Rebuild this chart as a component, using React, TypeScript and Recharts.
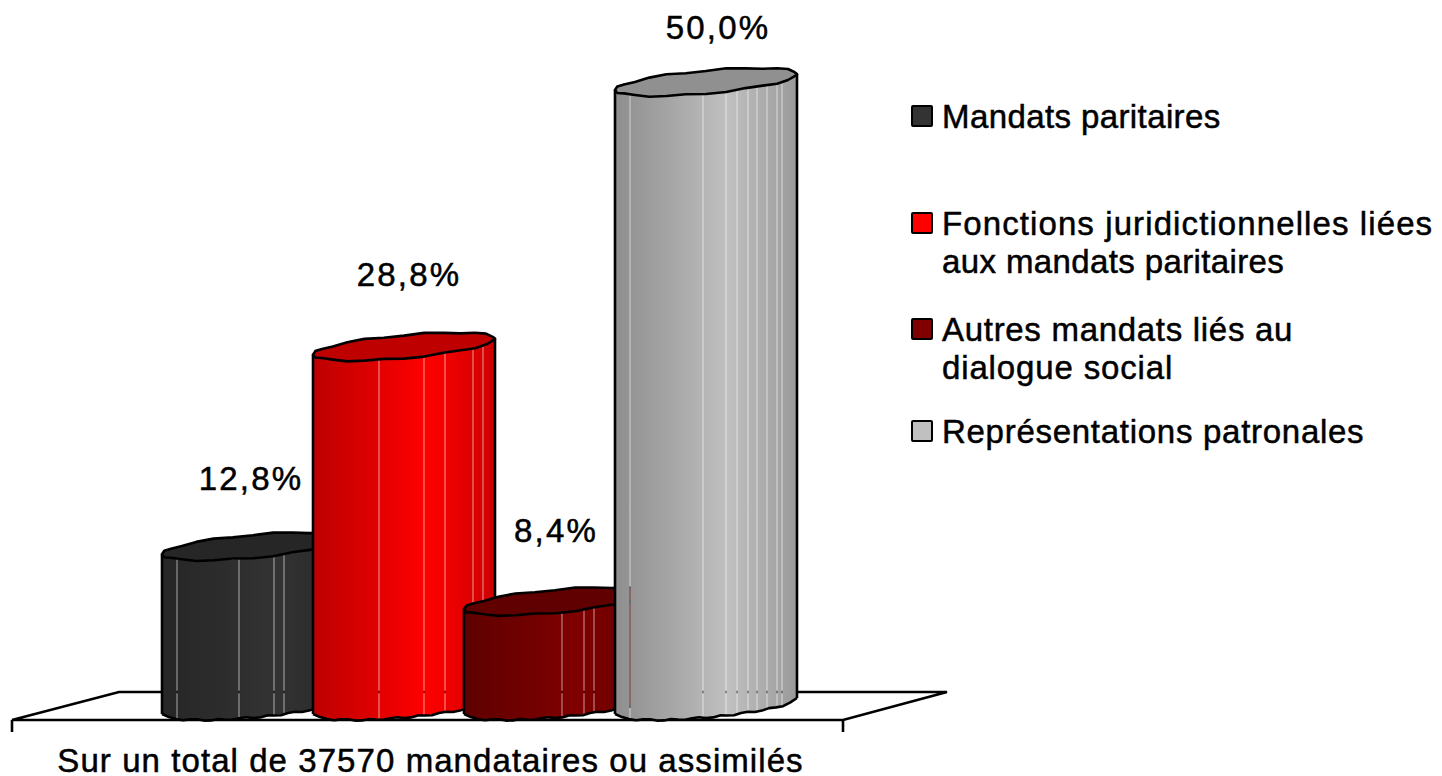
import React from 'react';
import { BarChart, Bar, XAxis, YAxis, Legend, LabelList } from 'recharts';

const categories = ['Sur un total de 37570 mandataires ou assimilés'];
const seriesNames = [
  'Mandats paritaires',
  'Fonctions juridictionnelles liées\naux mandats paritaires',
  'Autres mandats liés au\ndialogue social',
  'Représentations patronales',
];
const seriesValues = [12.8, 28.8, 8.4, 50.0];
const seriesColors = ['#333333', '#ff0000', '#800000', '#c0c0c0'];

// where the facets of each cylinder part, px from its left edge
const seamOffsets = [
  [15, 77, 112, 122],
  [66, 111, 132, 160, 170],
  [98, 120, 130],
  [15, 88, 111, 122, 133, 142, 152, 162, 167],
];
const labelNudges = [
  { dx: -2, dy: 68 },
  { dx: 5, dy: 72 },
  { dx: 1, dy: 71 },
  { dx: 12, dy: 55 },
];
const legendRows = [
  { top: 98, swatch: 7, spacing: [0.4] },
  { top: 205, swatch: 7, spacing: [1.1, 0.38] },
  { top: 311, swatch: 7, spacing: [0.7, 0.86] },
  { top: 413, swatch: 7, spacing: [0.72] },
];

const FONT = '"Liberation Sans", Arial, sans-serif';
const FONT_SIZE = 33;
const DEPTH = 104;
const TILT = 8;
const MINOR = 11.5;
const LINE = 2.6;

const chartData = categories.map((category) => {
  const row: Record<string, string | number> = { category };
  seriesNames.forEach((name, i) => {
    row[name] = seriesValues[i];
  });
  return row;
});

function shade(hex: string, k: number) {
  const n = parseInt(hex.slice(1), 16);
  const ch = (v: number) => Math.round(v * k);
  return `rgb(${ch((n >> 16) & 255)},${ch((n >> 8) & 255)},${ch(n & 255)})`;
}

// lumpy outline, same as the faceted cylinders of the original
const wobble = (i: number) => [0.5, -0.7, 0.2, 0.8, -0.4, -0.8, 0.6][i % 7];

function ring(cx: number, cy: number, a: number) {
  const pts: [number, number][] = [];
  const n = 28;
  for (let i = 0; i < n; i++) {
    const t = (i / n) * Math.PI * 2;
    const w = i % 14 === 0 ? 0 : wobble(i);
    pts.push([cx - a * Math.cos(t), cy + TILT * Math.cos(t) - MINOR * Math.sin(t) + w]);
  }
  return pts;
}

function frontY(x: number, cx: number, cy: number, a: number) {
  const c = Math.max(-1, Math.min(1, (x - cx) / a));
  return cy - TILT * c + MINOR * Math.sqrt(1 - c * c);
}

function toPath(pts: [number, number][], close = true) {
  const d = pts.map((p, i) => `${i ? 'L' : 'M'}${p[0].toFixed(1)} ${p[1].toFixed(1)}`).join(' ');
  return close ? d + ' Z' : d;
}

function stripPath(x0: number, x1: number, cx: number, topY: number, baseY: number, a: number) {
  const steps = Math.max(2, Math.ceil((x1 - x0) / 9));
  const top: [number, number][] = [];
  const bottom: [number, number][] = [];
  for (let i = 0; i <= steps; i++) {
    const x = x0 + ((x1 - x0) * i) / steps;
    top.push([x, frontY(x, cx, topY, a)]);
    bottom.unshift([x, frontY(x, cx, baseY, a)]);
  }
  return toPath([...top, ...bottom]);
}

const makeCylinder = (seriesIndex: number) => (props: any) => {
  const { x, y, width, height } = props;
  const color = seriesColors[seriesIndex];
  const a = width / 2;
  const cx = x + a;
  const baseY = y + height;
  const id = `cyl-${seriesIndex}`;
  const edges = [0, ...seamOffsets[seriesIndex], width];
  const gap = 0.6;

  const outlineBottom: [number, number][] = [];
  const steps = 26;
  for (let i = 0; i <= steps; i++) {
    const px = x + (width * i) / steps;
    const w = i === 0 || i === steps ? 0 : wobble(i);
    outlineBottom.push([px, frontY(px, cx, baseY, a) + w]);
  }

  return (
    <g>
      <defs>
        <linearGradient id={id} gradientUnits="userSpaceOnUse" x1={x} x2={x + width} y1={0} y2={0}>
          <stop offset="0" stopColor={shade(color, 0.74)} />
          <stop offset="0.3" stopColor={shade(color, 0.86)} />
          <stop offset="0.62" stopColor={shade(color, 1)} />
          <stop offset="1" stopColor={shade(color, 0.8)} />
        </linearGradient>
      </defs>
      {edges.slice(0, -1).map((e, i) => (
        <path
          key={i}
          d={stripPath(x + e + (i ? gap / 2 : 0), x + edges[i + 1] - (i < edges.length - 2 ? gap / 2 : 0), cx, y, baseY, a)}
          fill={`url(#${id})`}
        />
      ))}
      <path d={toPath(outlineBottom, false)} fill="none" stroke="#000" strokeWidth={LINE} strokeLinejoin="round" />
      <line x1={x} y1={frontY(x, cx, y, a)} x2={x} y2={frontY(x, cx, baseY, a)} stroke="#000" strokeWidth={LINE} />
      <line x1={x + width} y1={frontY(x + width, cx, y, a)} x2={x + width} y2={frontY(x + width, cx, baseY, a)} stroke="#000" strokeWidth={LINE} />
      <path d={toPath(ring(cx, y, a))} fill={shade(color, 0.75)} stroke="#000" strokeWidth={LINE} strokeLinejoin="round" />
    </g>
  );
};

const makeLabel = (seriesIndex: number) => (props: any) => {
  const { x, y, width, value } = props;
  const nudge = labelNudges[seriesIndex];
  return (
    <text
      x={x + width / 2 + nudge.dx}
      y={y - nudge.dy}
      textAnchor="middle"
      dominantBaseline="central"
      fontFamily={FONT}
      fontSize={FONT_SIZE}
      letterSpacing={2.2}
      style={{ stroke: '#000', strokeWidth: 0.5 }}
      fill="#000"
    >
      {Number(value).toFixed(1).replace('.', ',')}%
    </text>
  );
};

function CategoryTick(props: any) {
  const { x, payload } = props;
  return (
    <text
      x={x - DEPTH / 2 + 3}
      y={771.5}
      textAnchor="middle"
      fontFamily={FONT}
      fontSize={FONT_SIZE}
      letterSpacing={1.07}
      style={{ stroke: '#000', strokeWidth: 0.5 }}
      fill="#000"
    >
      {payload.value}
    </text>
  );
}

function ChartLegend(props: any) {
  const items = props.payload || [];
  return (
    <div style={{ position: 'relative', width: 531, height: 460 }}>
      {items.map((item: any, i: number) => (
        <div key={item.value} style={{ position: 'absolute', left: 0, top: legendRows[i].top }}>
          <div
            style={{
              position: 'absolute',
              left: 0,
              top: legendRows[i].swatch,
              width: 18,
              height: 18,
              background: item.color,
              border: '2px solid #000',
              borderRadius: 2,
            }}
          />
          <div
            style={{
              marginLeft: 31,
              fontFamily: FONT,
              fontSize: FONT_SIZE,
              lineHeight: '38px',
              color: '#000',
              whiteSpace: 'pre',
              WebkitTextStroke: '0.5px #000',
            }}
          >
            {String(item.value).split('\n').map((line, j) => (
              <div key={j} style={{ letterSpacing: legendRows[i].spacing[j] }}>
                {line}
              </div>
            ))}
          </div>
        </div>
      ))}
    </div>
  );
}

export default function App() {
  return (
    <div style={{ position: 'absolute', left: 0, top: 0, width: 1442, height: 776 }}>
      <BarChart
        width={1442}
        height={776}
        data={chartData}
        margin={{ top: 82, right: 547, bottom: 0, left: 64 }}
        barSize={182}
        barGap={-31}
      >
        <polygon points="12,720 119,692 947,692 843,720" fill="#fff" stroke="#000" strokeWidth={LINE} />
        <line x1={12} y1={720} x2={12} y2={732} stroke="#000" strokeWidth={LINE} />
        <line x1={843} y1={720} x2={843} y2={732} stroke="#000" strokeWidth={LINE} />
        <XAxis dataKey="category" height={70} axisLine={false} tickLine={false} interval={0} tick={CategoryTick} />
        <YAxis hide domain={[0, 50]} />
        <Legend
          layout="vertical"
          align="center"
          verticalAlign="middle"
          itemSorter={null}
          content={ChartLegend}
          wrapperStyle={{ left: 911, top: 0, width: 531 }}
        />
        {seriesNames.map((name, i) => (
          <Bar key={name} dataKey={name} name={name} fill={seriesColors[i]} shape={makeCylinder(i)} isAnimationActive={false}>
            <LabelList dataKey={name} content={makeLabel(i)} />
          </Bar>
        ))}
      </BarChart>
    </div>
  );
}
